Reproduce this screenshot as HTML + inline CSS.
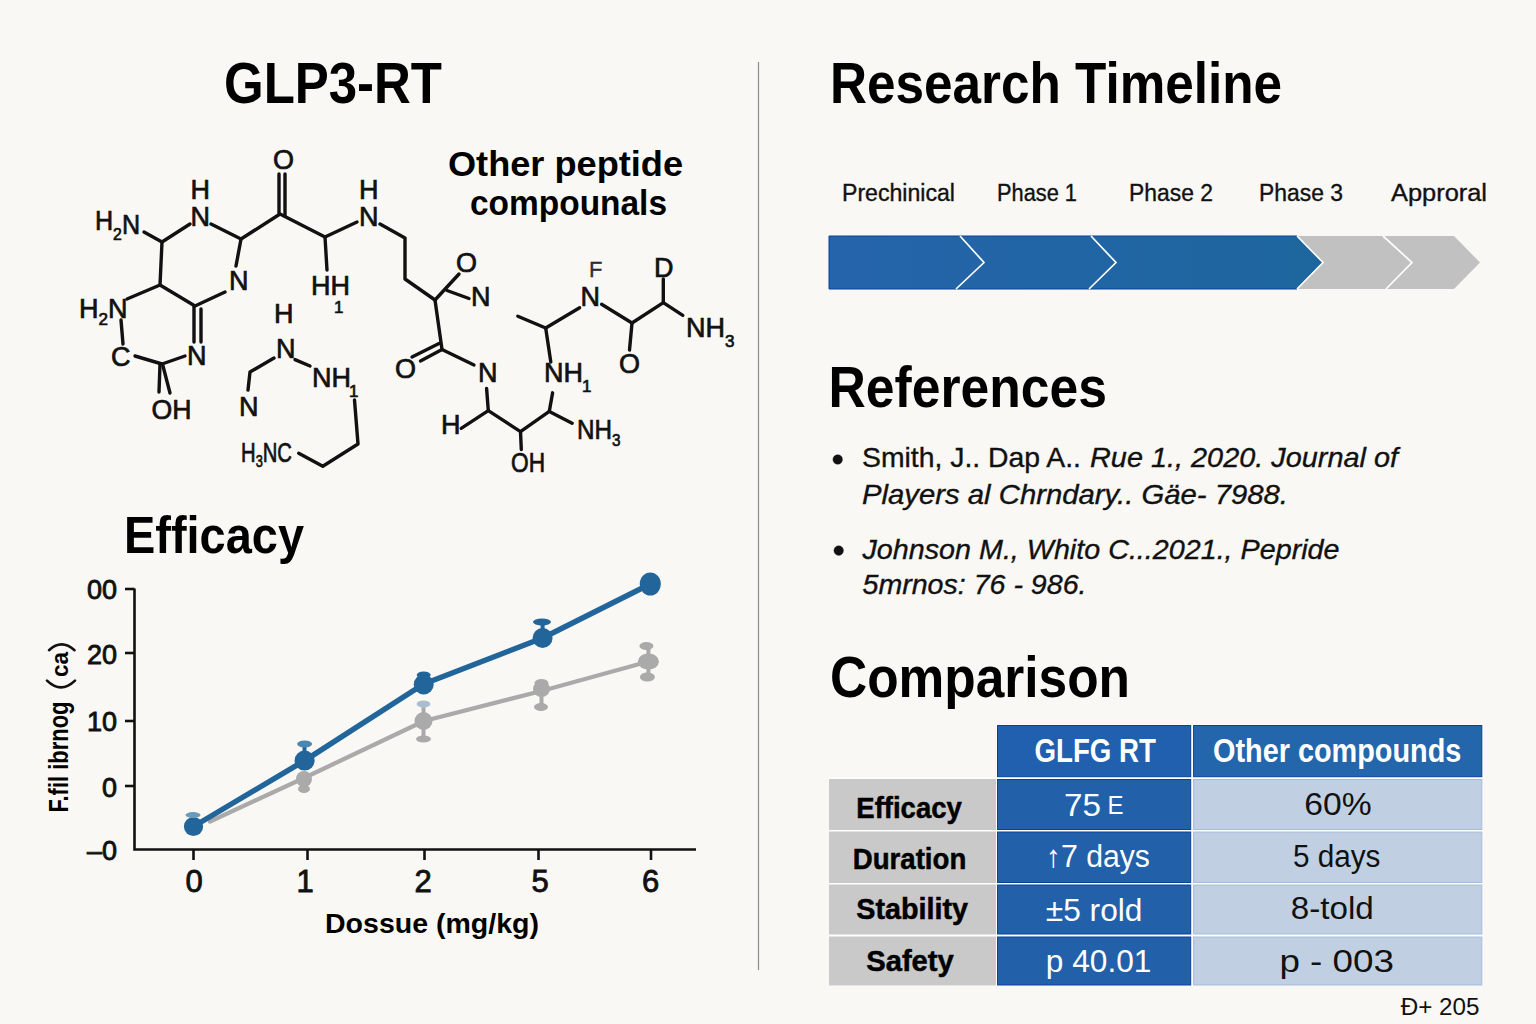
<!DOCTYPE html>
<html><head><meta charset="utf-8">
<style>
html,body{margin:0;padding:0;background:#f9f8f4;}
body{width:1536px;height:1024px;overflow:hidden;position:relative;font-family:"Liberation Sans",sans-serif;}
svg{position:absolute;left:0;top:0;}
text{font-family:"Liberation Sans",sans-serif;}
.h{font-weight:bold;fill:#000;}
.at{font-size:27px;fill:#111;stroke:#111;stroke-width:0.7px;}
.sub{font-size:17px;fill:#111;}
</style></head><body>
<svg width="1536" height="1024" viewBox="0 0 1536 1024">
<!-- divider -->
<line x1="758.5" y1="62" x2="758.5" y2="970" stroke="#8c8c8c" stroke-width="1.2"/>

<!-- headings -->
<text class="h" x="224" y="103" font-size="56.5" textLength="218" lengthAdjust="spacingAndGlyphs">GLP3-RT</text>
<text class="h" x="448" y="175.5" font-size="35.5" textLength="235" lengthAdjust="spacingAndGlyphs">Other peptide</text>
<text class="h" x="470" y="214.5" font-size="35.5" textLength="197" lengthAdjust="spacingAndGlyphs">compounals</text>
<text class="h" x="830" y="103" font-size="57" textLength="452" lengthAdjust="spacingAndGlyphs">Research Timeline</text>
<text class="h" x="828.5" y="407" font-size="57" textLength="278.5" lengthAdjust="spacingAndGlyphs">References</text>
<text class="h" x="830" y="696.5" font-size="57" textLength="300" lengthAdjust="spacingAndGlyphs">Comparison</text>
<text class="h" x="124" y="552.7" font-size="51.5" textLength="180" lengthAdjust="spacingAndGlyphs">Efficacy</text>

<!-- timeline -->
<g font-size="23.5" fill="#111" stroke="#111" stroke-width="0.35">
<text x="842" y="201" textLength="113" lengthAdjust="spacingAndGlyphs">Prechinical</text>
<text x="997" y="201" textLength="80" lengthAdjust="spacingAndGlyphs">Phase 1</text>
<text x="1129" y="201" textLength="84" lengthAdjust="spacingAndGlyphs">Phase 2</text>
<text x="1259" y="201" textLength="84" lengthAdjust="spacingAndGlyphs">Phase 3</text>
<text x="1391" y="201" textLength="96" lengthAdjust="spacingAndGlyphs">Approral</text>
</g>
<defs>
<linearGradient id="bg1" x1="0" x2="1" y1="0" y2="0">
<stop offset="0" stop-color="#2564ab"/><stop offset="1" stop-color="#1d669d"/>
</linearGradient>
</defs>
<polygon points="829,236 1297,236 1323,262.5 1297,289 829,289" fill="url(#bg1)" stroke="#0d4399" stroke-width="1"/>
<polygon points="1297,236 1454,236 1480,262.5 1454,289 1297,289 1323,262.5" fill="#c1c1c1"/>
<polyline points="960,236 984,262.5 956,289" fill="none" stroke="#fff" stroke-width="1.7"/>
<polyline points="1091,236 1116,262.5 1089,289" fill="none" stroke="#fff" stroke-width="1.7"/>
<polyline points="1297,236 1323,262.5 1297,289" fill="none" stroke="#fff" stroke-width="1.7"/>
<polyline points="1383,236 1412,262.5 1386,289" fill="none" stroke="#fff" stroke-width="1.7"/>


<!-- molecule -->
<g stroke="#111" stroke-width="3.4" stroke-linecap="round" stroke-linejoin="round" fill="none">
<polyline points="144,232 162,242 190,224"/>
<polyline points="211,224 241,239 236,266"/>
<polyline points="225,292 195,306 160,285 162,242"/>
<line x1="160" y1="285" x2="127" y2="299"/>
<line x1="194" y1="306" x2="194" y2="342"/>
<line x1="201" y1="309" x2="201" y2="342"/>
<polyline points="185,356 162,364 135,356"/>
<line x1="121" y1="320" x2="123" y2="344"/>
<line x1="160" y1="364" x2="159" y2="392"/>
<line x1="163" y1="366" x2="170" y2="393"/>
<polyline points="241,239 280,214 325,237 327,270"/>
<line x1="279" y1="213" x2="279" y2="174"/>
<line x1="285" y1="216" x2="285" y2="174"/>
<line x1="325" y1="237" x2="357" y2="222"/>
<polyline points="380,224 405,238 405,279 435,300"/>
<polyline points="274,358 250,372 248,390"/>
<line x1="295" y1="359.6" x2="310" y2="366"/>
<polyline points="354.5,400 358,444 322.8,466.3 298.7,453.3"/>
<line x1="435" y1="300" x2="459" y2="274"/>
<line x1="447" y1="290.5" x2="469" y2="298.5"/>
<polyline points="435,300 442,349.5 474,365"/>
<line x1="442" y1="349.5" x2="420.5" y2="361"/>
<line x1="439" y1="343.5" x2="412" y2="357"/>
<polyline points="486.6,388.5 488.3,410.6 461.2,428.3"/>
<polyline points="488.3,410.6 520.5,431.7 549.3,411.4 572.1,423.2"/>
<line x1="520.5" y1="431.7" x2="521.3" y2="449.5"/>
<line x1="549.3" y1="411.4" x2="552.6" y2="392.8"/>
<polyline points="550.8,362 545.7,328 517.8,316.2"/>
<line x1="545.7" y1="328" x2="579.6" y2="307.7"/>
<polyline points="601.6,304.3 632,323 663.3,302.6 682.8,315.3"/>
<line x1="632" y1="323" x2="629.5" y2="350"/>
<line x1="663.3" y1="302.6" x2="663.3" y2="279"/>
</g>
<g class="at">
<text x="95" y="230" textLength="45" lengthAdjust="spacingAndGlyphs">H<tspan class="sub" dy="9.5">2</tspan><tspan dy="-6">N</tspan></text>
<text x="190.5" y="198.5">H</text>
<text x="190.5" y="225.5">N</text>
<text x="229" y="290">N</text>
<text x="79" y="318">H<tspan class="sub" dy="7">2</tspan><tspan dy="-7">N</tspan></text>
<text x="111" y="366">C</text>
<text x="187" y="365">N</text>
<text x="151.5" y="418.5" textLength="40" lengthAdjust="spacingAndGlyphs">OH</text>
<text x="273" y="169">O</text>
<text x="311" y="295">HH</text>
<text class="sub" x="334" y="313">1</text>
<text x="359" y="199">H</text>
<text x="359" y="225.5">N</text>
<text x="274" y="323">H</text>
<text x="276" y="358">N</text>
<text x="239" y="416">N</text>
<text x="312" y="386.5">NH</text>
<text class="sub" x="349" y="397">1</text>
<text x="241" y="462" textLength="51" lengthAdjust="spacingAndGlyphs">H<tspan class="sub" dy="5">3</tspan><tspan dy="-5">NC</tspan></text>
<text x="456" y="272">O</text>
<text x="471" y="306">N</text>
<text x="395" y="378">O</text>
<text x="478" y="382">N</text>
<text x="441" y="434">H</text>
<text x="511" y="472.3" textLength="34" lengthAdjust="spacingAndGlyphs">OH</text>
<text x="577" y="439.3" textLength="43.5" lengthAdjust="spacingAndGlyphs">NH<tspan class="sub" dy="7">3</tspan></text>
<text x="544" y="382">NH</text>
<text class="sub" x="582" y="392">1</text>
<text x="580.5" y="306">N</text>
<text x="589" y="277" style="font-size:22px;stroke-width:0.3px" fill="#333">F</text>
<text x="619" y="373">O</text>
<text x="654" y="277">D</text>
<text x="686" y="336.5">NH<tspan class="sub" dy="10">3</tspan></text>
</g>

<!-- chart -->
<g stroke="#111" stroke-width="2.6" fill="none">
<polyline points="134.5,588.5 134.5,849.5 696,849.5"/>
<line x1="125" y1="589" x2="134.5" y2="589"/>
<line x1="125" y1="653" x2="134.5" y2="653"/>
<line x1="125" y1="721" x2="134.5" y2="721"/>
<line x1="125" y1="786" x2="134.5" y2="786"/>
<line x1="193.5" y1="849.5" x2="193.5" y2="860"/>
<line x1="307.5" y1="849.5" x2="307.5" y2="860"/>
<line x1="424.5" y1="849.5" x2="424.5" y2="860"/>
<line x1="538.5" y1="849.5" x2="538.5" y2="860"/>
<line x1="651" y1="849.5" x2="651" y2="860"/>
</g>
<g font-size="27" fill="#111" stroke="#111" stroke-width="0.85" text-anchor="end">
<text x="117" y="599">00</text>
<text x="117" y="663.5">20</text>
<text x="117" y="731">10</text>
<text x="117" y="797">0</text>
<text x="117" y="860">–0</text>
</g>
<g font-size="31" fill="#111" stroke="#111" stroke-width="0.85" text-anchor="middle">
<text x="194" y="892">0</text>
<text x="305" y="892">1</text>
<text x="423" y="892">2</text>
<text x="540" y="892">5</text>
<text x="650.5" y="892">6</text>
</g>
<text class="h" x="325" y="933" font-size="27" textLength="214" lengthAdjust="spacingAndGlyphs" style="font-weight:bold">Dossue (mg/kg)</text>
<g class="h" transform="translate(67.5,812.5) rotate(-90)" font-size="27"><text x="0" y="0" textLength="111" lengthAdjust="spacingAndGlyphs">F.fil ibrnog</text><text x="135.5" y="0.5" font-size="24" textLength="25" lengthAdjust="spacingAndGlyphs">ca</text></g>
<path d="M47,680.6 Q61,694 75,680.6" fill="none" stroke="#111" stroke-width="2.6" stroke-linecap="round"/>
<path d="M49,650.2 Q61.5,638.5 74.5,650.2" fill="none" stroke="#111" stroke-width="2.6" stroke-linecap="round"/>

<!-- gray series -->
<g fill="#aaaaaa">
<polyline points="210,821.5 304,778 424,721 541.5,691 648.5,661.5" fill="none" stroke="#aaaaaa" stroke-width="4.3" stroke-linecap="round" stroke-linejoin="round"/>
<ellipse cx="304" cy="779" rx="8" ry="8"/>
<ellipse cx="304" cy="789" rx="6" ry="4"/>
<ellipse cx="423.5" cy="721" rx="9" ry="9"/>
<rect x="421.5" y="702" width="4" height="37"/>
<ellipse cx="423.5" cy="739" rx="7.5" ry="3.5"/>
<ellipse cx="423.5" cy="704" rx="7" ry="3.5" fill="#a9bfcf"/>
<ellipse cx="541.5" cy="689" rx="8.5" ry="8"/>
<rect x="539.5" y="681" width="4" height="27"/>
<ellipse cx="541.5" cy="683" rx="7" ry="4"/>
<ellipse cx="541" cy="707" rx="7" ry="4"/>
<ellipse cx="648.4" cy="661.5" rx="10.5" ry="8"/>
<rect x="646.4" y="646" width="4" height="31"/>
<ellipse cx="646.4" cy="646" rx="7" ry="4"/>
<ellipse cx="647.4" cy="677" rx="7.5" ry="4.5"/>
</g>
<!-- blue series -->
<g fill="#21659a">
<polyline points="193.5,826.5 304.6,760.6 423.7,684 542.6,638 650.3,584" fill="none" stroke="#21659a" stroke-width="5.5" stroke-linecap="round" stroke-linejoin="round"/>
<ellipse cx="193.5" cy="826.5" rx="9.6" ry="9.6"/>
<ellipse cx="193" cy="815" rx="7.5" ry="3" fill="#6a9bbb"/>
<ellipse cx="304.6" cy="760.6" rx="10" ry="10"/>
<rect x="302.5" y="744" width="4" height="14"/>
<ellipse cx="304.6" cy="744" rx="7.5" ry="3.5" fill="#4a86b0"/>
<ellipse cx="423.7" cy="684.5" rx="10" ry="10"/>
<rect x="421.7" y="674" width="4" height="10"/>
<ellipse cx="423.7" cy="675" rx="7" ry="3.5"/>
<ellipse cx="542.6" cy="638" rx="10" ry="10"/>
<rect x="540.6" y="622" width="4" height="14"/>
<ellipse cx="542" cy="622" rx="9" ry="3.5"/>
<ellipse cx="650.3" cy="584" rx="10.5" ry="11.5"/>
</g>

<!-- references -->
<g font-size="28" fill="#111" stroke="#111" stroke-width="0.35">
<circle cx="837.7" cy="459.5" r="4.8"/>
<circle cx="838.7" cy="550.6" r="4.8"/>
<text x="862" y="467.2" textLength="219" lengthAdjust="spacingAndGlyphs">Smith, J.. Dap A..</text>
<text x="1090" y="467.2" font-style="italic" textLength="308" lengthAdjust="spacingAndGlyphs">Rue 1., 2020. Journal of</text>
<text x="862" y="503.7" font-style="italic" textLength="426" lengthAdjust="spacingAndGlyphs">Players al Chrndary.. Gäe- 7988.</text>
<text x="862.5" y="559.2" font-style="italic" textLength="477" lengthAdjust="spacingAndGlyphs">Johnson M., Whito C...2021., Pepride</text>
<text x="862.5" y="593.6" font-style="italic" textLength="224" lengthAdjust="spacingAndGlyphs">5mrnos: 76 - 986.</text>
</g>

<!-- table -->
<rect x="829" y="777" width="653.3" height="209" fill="#fff"/>
<rect x="996" y="724" width="486.3" height="53" fill="#fff"/>
<g stroke-width="1">
<rect x="997.5" y="725.5" width="193.2" height="51.2" fill="#2060ae" stroke="#0b3f9c"/>
<rect x="1193.6" y="725.5" width="288.2" height="51.2" fill="#2466ac" stroke="#0b3f9c"/>
<rect x="829" y="779" width="167" height="51" fill="#c9c9c9"/>
<rect x="829" y="831.5" width="167" height="51.5" fill="#c9c9c9"/>
<rect x="829" y="884.5" width="167" height="50" fill="#c9c9c9"/>
<rect x="829" y="936.5" width="167" height="49" fill="#c9c9c9"/>
<rect x="997.5" y="779.5" width="193.2" height="50" fill="#2360aa" stroke="#0b3f9c"/>
<rect x="997.5" y="832" width="193.2" height="50.5" fill="#2360aa" stroke="#0b3f9c"/>
<rect x="997.5" y="885" width="193.2" height="49" fill="#2360aa" stroke="#0b3f9c"/>
<rect x="997.5" y="937" width="193.2" height="48" fill="#2360aa" stroke="#0b3f9c"/>
<rect x="1193.6" y="779.5" width="288.2" height="50" fill="#c1cfe2" stroke="#a5bbdb"/>
<rect x="1193.6" y="832" width="288.2" height="50.5" fill="#c1cfe2" stroke="#a5bbdb"/>
<rect x="1193.6" y="885" width="288.2" height="49" fill="#c1cfe2" stroke="#a5bbdb"/>
<rect x="1193.6" y="937" width="288.2" height="48" fill="#c1cfe2" stroke="#a5bbdb"/>
</g>
<g font-size="33" font-weight="bold" fill="#fff">
<text x="1034.6" y="762.2" textLength="121.3" lengthAdjust="spacingAndGlyphs">GLFG RT</text>
<text x="1213" y="762.2" textLength="248.4" lengthAdjust="spacingAndGlyphs">Other compounds</text>
</g>
<g font-size="30" font-weight="bold" fill="#000" stroke="#000" stroke-width="0.5">
<text x="856.3" y="818" textLength="105.5" lengthAdjust="spacingAndGlyphs">Efficacy</text>
<text x="852.7" y="868.5" textLength="113.6" lengthAdjust="spacingAndGlyphs">Duration</text>
<text x="856.3" y="918.5" textLength="111.8" lengthAdjust="spacingAndGlyphs">Stability</text>
<text x="866.2" y="971" textLength="87.6" lengthAdjust="spacingAndGlyphs">Safety</text>
</g>
<g font-size="31" fill="#fff">
<text x="1064" y="816" textLength="37" lengthAdjust="spacingAndGlyphs">75</text><text x="1107.5" y="813.5" font-size="26" textLength="16" lengthAdjust="spacingAndGlyphs">E</text>
<text x="1045.8" y="867" textLength="104.2" lengthAdjust="spacingAndGlyphs">↑7 days</text>
<text x="1045.8" y="920.8" textLength="96.6" lengthAdjust="spacingAndGlyphs">±5 rold</text>
<text x="1045.8" y="972.4" textLength="105.6" lengthAdjust="spacingAndGlyphs">p 40.01</text>
</g>
<g font-size="31" fill="#111">
<text x="1304.2" y="815.2" textLength="67.4" lengthAdjust="spacingAndGlyphs">60%</text>
<text x="1292.9" y="867" textLength="87.6" lengthAdjust="spacingAndGlyphs">5 days</text>
<text x="1290.7" y="919.4" textLength="83.1" lengthAdjust="spacingAndGlyphs">8-told</text>
<text x="1279.4" y="972.4" textLength="114.6" lengthAdjust="spacingAndGlyphs">p - 003</text>
</g>
<text x="1400.7" y="1015" font-size="23" fill="#111" textLength="78.8" lengthAdjust="spacingAndGlyphs">Ð+ 205</text>
</svg>
</body></html>
